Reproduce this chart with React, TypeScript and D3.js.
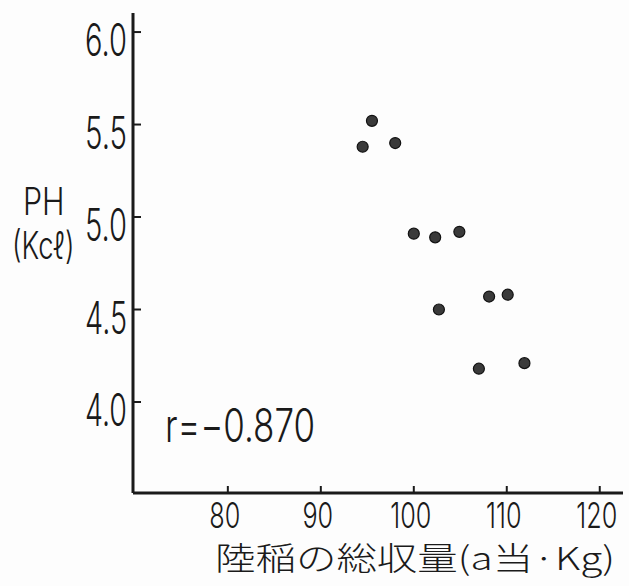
import React from 'react';
import * as d3 from 'd3';

// 陸稲の総収量 (a当 Kg) vs PH (KCl)
const yieldKg = [95.5, 94.5, 98.0, 100.0, 102.3, 104.9, 102.7, 108.1, 110.1, 107.0, 111.9];
const phKcl = [5.52, 5.38, 5.40, 4.91, 4.89, 4.92, 4.50, 4.57, 4.58, 4.18, 4.21];
const xTicks = [80, 90, 100, 110, 120];
const yTicks = [4.0, 4.5, 5.0, 5.5, 6.0];
const xTitle = '陸稲の総収量(a当·Kg)';
const yTitle = ['PH', '(Kcℓ)'];
const corrLabel = 'r=−0.870';

const width = 629;
const height = 586;
const font = 'Inter, "DejaVu Sans", sans-serif';
const ink = '#1a1a1a';

const App = () => {
  const x = d3.scaleLinear().domain([69.8, 122.5]).range([133, 623]);
  const y = d3.scaleLinear().domain([3.508, 6.103]).range([493, 13]);
  const [x0, x1] = x.range();
  const [y0, y1] = y.range();

  return (
    <svg
      width={width}
      height={height}
      style={{ position: 'absolute', left: 0, top: 0, background: '#fdfdfd' }}
    >
      {/* axes */}
      <line x1={x0} x2={x0} y1={y1} y2={y0} stroke={ink} strokeWidth={3} />
      <line x1={x0} x2={x1} y1={y0} y2={y0} stroke={ink} strokeWidth={3} />

      {yTicks.map(t => (
        <g key={t}>
          <line x1={x0} x2={x0 + 8} y1={y(t)} y2={y(t)} stroke={ink} strokeWidth={2} />
          <text
            x={127}
            y={y(t) + 24}
            textAnchor="end"
            fontFamily={font}
            fontWeight={300}
            fontSize={45}
            fill={ink}
            textLength={42}
            lengthAdjust="spacingAndGlyphs"
          >
            {t.toFixed(1)}
          </text>
        </g>
      ))}

      {xTicks.map(t => (
        <g key={t}>
          <line x1={x(t)} x2={x(t)} y1={y0} y2={y0 - 7} stroke={ink} strokeWidth={2} />
          <text
            transform={`translate(${x(t) - 3},528) scale(0.72,1)`}
            textAnchor="middle"
            fontFamily={font}
            fontWeight={300}
            fontSize={35}
            fill={ink}
          >
            {t}
          </text>
        </g>
      ))}

      {/* points */}
      {yieldKg.map((v, i) => (
        <circle
          key={i}
          cx={x(v)}
          cy={y(phKcl[i])}
          r={5.5}
          fill="#3a3a3a"
          stroke="#111"
          strokeWidth={1.2}
        />
      ))}

      {/* labels */}
      <text transform="translate(23,215) scale(0.8,1)" fontFamily={font} fontWeight={300} fontSize={38} fill={ink}>
        {yTitle[0]}
      </text>
      <text transform="translate(12,259) scale(0.72,1)" fontFamily={font} fontWeight={300} fontSize={38} fill={ink}>
        {yTitle[1]}
      </text>
      <text x={165} y={442} fontFamily={font} fontWeight={300} fontSize={46} fill={ink} textLength={150} lengthAdjust="spacingAndGlyphs">
        {corrLabel}
      </text>
      <text
        x={215}
        y={570}
        fontFamily='"Noto Sans CJK JP", sans-serif'
        fontSize={32}
        fontWeight={300}
        fill={ink}
        textLength={400}
        lengthAdjust="spacingAndGlyphs"
      >
        {xTitle}
      </text>
    </svg>
  );
};

export default App;
